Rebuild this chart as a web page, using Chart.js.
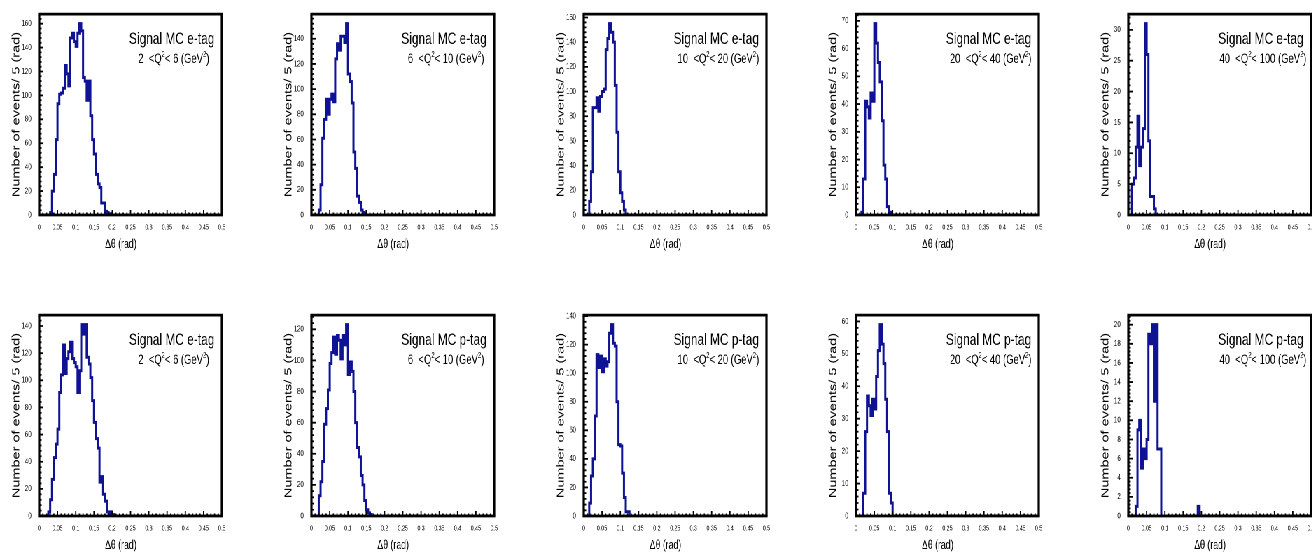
<!DOCTYPE html>
<html>
<head>
<meta charset="utf-8">
<script src="https://cdn.jsdelivr.net/npm/chart.js@4.4.1/dist/chart.umd.min.js"></script>
<style>
  html, body { margin: 0; padding: 0; background: #fff; overflow: hidden; width: 1312px; height: 553px; }
  #wrap { position: absolute; left: 0; top: 0; width: 1900px; height: 553px; transform: scaleX(0.7); transform-origin: 0 0; }
  #wrap canvas { position: absolute; }
</style>
</head>
<body>
<div id="wrap"></div>
<script>
// histograms: 100 bins of 0.005 rad between 0 and 0.5
const binWidth = 0.005;
const nBins = 100;

// counts per bin, each list starts at the bin given in startBins
const eTag2to6 = [2, 20, 34, 63, 93, 101, 102, 106, 125, 118, 108, 148, 152, 145, 141, 152, 160, 154, 115, 112, 96, 112, 83, 63, 51, 34, 26, 23, 10, 10, 3, 2, 1, 1];
const eTag6to10 = [4, 24, 61, 76, 92, 80, 92, 96, 90, 124, 136, 131, 142, 142, 137, 152, 112, 106, 89, 50, 37, 15, 10, 4, 2, 1];
const eTag10to20 = [11, 35, 87, 87, 95, 84, 96, 100, 102, 134, 143, 155, 148, 140, 105, 67, 35, 18, 11, 4];
const eTag20to40 = [1, 13, 41, 39, 35, 44, 41, 69, 62, 55, 48, 34, 18, 13, 3, 1];
const eTag40to100 = [5, 6, 11, 16, 8, 11, 14, 31, 26, 12, 3, 3, 1];
const lowRowETag2to6 = [3, 12, 27, 43, 53, 64, 91, 104, 126, 105, 116, 121, 128, 116, 113, 110, 91, 107, 141, 134, 141, 117, 112, 102, 85, 69, 57, 50, 25, 29, 16, 11, 3, 0, 3, 1];
const pTag6to10 = [13, 22, 35, 59, 69, 81, 98, 105, 115, 104, 116, 113, 101, 116, 110, 123, 91, 99, 93, 80, 60, 44, 38, 26, 20, 10, 4, 2, 1];
const pTag10to20 = [9, 28, 40, 70, 113, 104, 112, 101, 110, 105, 108, 128, 134, 121, 119, 80, 50, 49, 30, 13, 3, 3];
const pTag20to40 = [7, 26, 37, 34, 31, 36, 33, 43, 51, 59, 53, 47, 36, 26, 7, 4];
const pTag40to100 = [1, 9, 10, 5, 7, 6, 8, 19, 18, 20, 12, 20, 7, 7, 0, 0, 0, 0, 0, 0, 0, 0, 0, 0, 0, 0, 0, 0, 0, 0, 0, 0, 0, 0, 1];

const panelCounts = [eTag2to6, eTag6to10, eTag10to20, eTag20to40, eTag40to100,
                     lowRowETag2to6, pTag6to10, pTag10to20, pTag20to40, pTag40to100];
const startBins = [6, 4, 3, 3, 2, 5, 4, 3, 4, 4];
const tagLabels = ['e-tag', 'e-tag', 'e-tag', 'e-tag', 'e-tag', 'e-tag', 'p-tag', 'p-tag', 'p-tag', 'p-tag'];
const q2Low = [2, 6, 10, 20, 40, 2, 6, 10, 20, 40];
const q2High = [6, 10, 20, 40, 100, 6, 10, 20, 40, 100];
const yTickStep = [20, 20, 20, 10, 5, 20, 20, 20, 10, 2];

const squeeze = 0.7;
const sans = "'Liberation Sans', Arial, sans-serif";
const histColor = '#0f1293';

function drawQ2(ctx, cx, y, lo, hi, size) {
  const sup = size * 0.62;
  const parts = [[lo + '  <Q', size, 0], ['2', sup, size * 0.45], ['< ' + hi + ' (GeV', size, 0], ['2', sup, size * 0.45], [')', size, 0]];
  let w = 0;
  parts.forEach(p => { ctx.font = p[1] + 'px ' + sans; w += ctx.measureText(p[0]).width; });
  let x = cx - w / 2;
  ctx.textAlign = 'left';
  parts.forEach(p => {
    ctx.font = p[1] + 'px ' + sans;
    ctx.fillText(p[0], x, y - p[2]);
    x += ctx.measureText(p[0]).width;
  });
}

const rootFrame = {
  id: 'rootFrame',
  afterDatasetsDraw(chart, args, opts) {
    const ctx = chart.ctx, a = chart.chartArea, x = chart.scales.x, y = chart.scales.y;
    ctx.save();
    ctx.strokeStyle = '#000';
    ctx.lineWidth = 1.8;
    ctx.beginPath();
    for (let k = 0; k <= 50; k++) {
      const px = x.getPixelForValue(k * 0.01);
      const len = k % 5 === 0 ? 5 : 2.5;
      ctx.moveTo(px, a.bottom); ctx.lineTo(px, a.bottom - len);
    }
    const minor = opts.step / 5;
    for (let k = 0; k * minor <= y.max; k++) {
      const py = y.getPixelForValue(k * minor);
      const len = k % 5 === 0 ? 6 : 3.5;
      ctx.moveTo(a.left, py); ctx.lineTo(a.left + len, py);
    }
    ctx.stroke();
    ctx.lineWidth = 2.8;
    ctx.beginPath();
    ctx.moveTo(a.left - 1.6, a.top); ctx.lineTo(a.right + 1.6, a.top);
    ctx.moveTo(a.left - 1.6, a.bottom); ctx.lineTo(a.right + 1.6, a.bottom);
    ctx.stroke();
    ctx.lineWidth = 3.2;
    ctx.beginPath();
    ctx.moveTo(a.left, a.top); ctx.lineTo(a.left, a.bottom);
    ctx.moveTo(a.right, a.top); ctx.lineTo(a.right, a.bottom);
    ctx.stroke();

    ctx.fillStyle = '#000';
    ctx.textBaseline = 'alphabetic';
    ctx.font = '17px ' + sans;
    ctx.textAlign = 'right';
    const label = 'Signal MC ' + opts.tag;
    const r = a.right - 10.7;
    ctx.fillText(label, r, a.top + 29.8);
    const cx = r - ctx.measureText(label).width / 2 + 3;
    drawQ2(ctx, cx, a.top + 49, opts.lo, opts.hi, 13.5);

    ctx.font = '12.5px ' + sans;
    ctx.textAlign = 'center';
    ctx.textBaseline = 'middle';
    ctx.fillText('\u0394\u03b8 (rad)', a.left + 116.7, a.bottom + 29.5);
    ctx.restore();
  }
};

const wrap = document.getElementById('wrap');
const frameTops = [13.5, 315];

panelCounts.forEach((counts, p) => {
  const col = p % 5, row = Math.floor(p / 5);
  const canvas = document.createElement('canvas');
  canvas.width = 327;
  canvas.height = 249;
  canvas.style.left = ((39.3 + 272.25 * col) / squeeze - 56) + 'px';
  canvas.style.top = (frameTops[row] - 8) + 'px';
  wrap.appendChild(canvas);

  const pts = [];
  for (let i = 0; i <= nBins; i++) {
    const k = i - startBins[p];
    pts.push({ x: i * binWidth, y: k >= 0 && k < counts.length ? counts[k] : 0 });
  }

  new Chart(canvas, {
    type: 'line',
    data: {
      datasets: [{
        data: pts,
        borderColor: histColor,
        borderWidth: 3,
        pointRadius: 0,
        stepped: true,
        fill: false
      }]
    },
    options: {
      responsive: false,
      animation: false,
      devicePixelRatio: 2,
      layout: { padding: { top: 8, right: 10, left: 0, bottom: 0 } },
      plugins: {
        legend: { display: false },
        tooltip: { enabled: false },
        rootFrame: { step: yTickStep[p], tag: tagLabels[p], lo: q2Low[p], hi: q2High[p] }
      },
      scales: {
        x: {
          type: 'linear',
          min: 0,
          max: 0.5,
          afterFit: s => { s.height = 40; },
          grid: { display: false },
          border: { display: false },
          ticks: {
            stepSize: 0.05,
            autoSkip: false,
            maxRotation: 0,
            padding: 0,
            color: '#000',
            font: { family: sans, size: 7.5 },
            callback: v => String(Math.round(v * 100) / 100)
          }
        },
        y: {
          min: 0,
          max: Math.max(...counts) * 1.05,
          afterFit: s => { s.width = 56; },
          grid: { display: false },
          border: { display: false },
          ticks: {
            stepSize: yTickStep[p],
            includeBounds: false,
            padding: 3,
            color: '#000',
            font: { family: sans, size: 8.5 }
          },
          title: {
            display: true,
            text: 'Number of events/ 5 (rad)',
            color: '#000',
            font: { family: sans, size: 14.5 },
            padding: { top: 15, bottom: 0 }
          }
        }
      }
    },
    plugins: [rootFrame]
  });
});
</script>
</body>
</html>
